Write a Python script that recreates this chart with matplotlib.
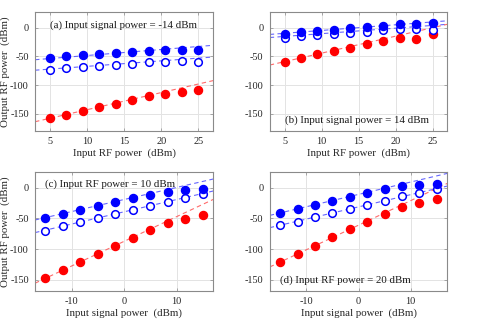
import numpy as np
import matplotlib
matplotlib.use("Agg")
import matplotlib.pyplot as plt

plt.rcParams['font.family'] = ['Liberation Serif', 'DejaVu Serif']
plt.rcParams['axes.unicode_minus'] = False

# ---------------- data ----------------
x_rf = np.linspace(5, 25, 10)          # Input RF power (dBm), panels a,b
x_sig = np.linspace(-15, 15, 10)       # Input signal power (dBm), panels c,d

a_fill = [-52.9, -50.0, -47.7, -45.4, -43.7, -42.5, -40.2, -39.0, -38.5, -38.5]
a_open = [-73.6, -70.7, -68.4, -66.0, -64.4, -62.6, -60.3, -59.2, -58.6, -59.2]
a_red = [-157.5, -151.7, -144.8, -137.9, -132.2, -125.3, -119.5, -115.5, -111.5, -109.2]

b_fill = [-10.9, -8.0, -5.7, -3.4, -1.1, 1.1, 3.4, 5.7, 6.9, 7.5]
b_open = [-17.2, -15.0, -13.2, -10.9, -9.2, -6.9, -4.6, -2.9, -2.9, -3.4]
b_red = [-59.2, -52.9, -46.0, -39.7, -34.5, -28.2, -23.0, -18.4, -19.0, -10.3]

c_fill = [-49.8, -42.8, -36.8, -29.8, -23.3, -16.8, -11.4, -7.0, -4.3, -2.7]
c_open = [-69.8, -62.8, -56.3, -49.3, -42.8, -36.3, -29.8, -23.3, -16.8, -10.3]
c_red = [-147.3, -133.7, -120.7, -108.3, -94.2, -81.2, -68.8, -57.9, -50.4, -43.9]

d_fill = [-41.7, -34.7, -27.6, -21.7, -14.6, -8.7, -2.7, 2.7, 4.9, 6.5]
d_open = [-61.2, -55.2, -48.2, -41.1, -34.7, -27.6, -21.1, -14.1, -8.1, -2.2]
d_red = [-120.2, -107.7, -94.2, -80.7, -67.1, -55.2, -42.2, -31.4, -24.4, -18.4]

# fitted trend lines: (slope, intercept) for fill, open, red
a_fit = [(1.05, -58.9), (0.96, -76.9), (2.99, -172.8)]
b_fit = [(0.99, -14.6), (0.96, -19.9), (2.96, -73.9)]
c_fit = [(1.96, -19.2), (1.99, -39.2), (4.01, -87.2)]
d_fit = [(2.01, -10.9), (1.99, -31.2), (4.00, -61.0)]

titles = ["(a) Input signal power = -14 dBm",
          "(b) Input signal power = 14 dBm",
          "(c) Input RF power = 10 dBm",
          "(d) Input RF power = 20 dBm"]
xlabels = ["Input RF power  (dBm)", "Input RF power  (dBm)",
           "Input signal power  (dBm)", "Input signal power  (dBm)"]
ylabel = "Output RF power  (dBm)"

# ---------------- figure ----------------
fig = plt.figure(figsize=(4.98, 3.20), dpi=100)
W, H = 498, 320
rects = [(35, 11.7, 213.3, 131), (269.7, 11.7, 447.3, 131),
         (35, 171.7, 213.3, 291), (269.7, 171.7, 447.3, 291)]

panels = [
    (x_rf, a_fill, a_open, a_red, a_fit, (3, 27), (-180, 28), [5, 10, 15, 20, 25], (5, 5), True),
    (x_rf, b_fill, b_open, b_red, b_fit, (3, 27), (-180, 28), [5, 10, 15, 20, 25], (5, -161), False),
    (x_sig, c_fill, c_open, c_red, c_fit, (-17, 17), (-168, 26), [-10, 0, 10], (-15, 5), True),
    (x_sig, d_fill, d_open, d_red, d_fit, (-17, 17), (-168, 26), [-10, 0, 10], (-15, -150), False),
]

fs = 7.8
tfs = 7.4
blue = '#0000ff'
red = '#ff0000'
for i, (rect, p) in enumerate(zip(rects, panels)):
    l, t, r, b = rect
    ax = fig.add_axes([l / W, 1 - b / H, (r - l) / W, (b - t) / H])
    x, yf, yo, yr, fits, xl, yl, xt, tpos, showy = p
    xx = np.array(xl, dtype=float)
    cols = ['#5555ff', '#5555ff', '#ff5a5a']
    for (s, c0), col in zip(fits, cols):
        ax.plot(xx, s * xx + c0, ls=(0, (4, 3)), lw=0.8, color=col, alpha=0.9, zorder=2)
    ax.plot(x, yr, 'o', color=red, ms=5.8, mec=red, zorder=3)
    ax.plot(x, yo, 'o', mfc='white', mec=blue, mew=1.1, ms=5.5, zorder=3)
    ax.plot(x, yf, 'o', color=blue, ms=5.8, mec=blue, zorder=4)
    ax.set_xlim(*xl)
    ax.set_ylim(*yl)
    ax.set_xticks(xt)
    ax.set_yticks([-150, -100, -50, 0])
    ax.grid(True, color='#e3e3e3', lw=0.7)
    ax.set_axisbelow(True)
    for sp in ax.spines.values():
        sp.set_color('#8a8a8a')
        sp.set_linewidth(0.8)
    ax.tick_params(direction='in', length=2, width=0.5, colors='#8a8a8a',
                   labelcolor='#262626', labelsize=tfs, top=True, right=True)
    ax.tick_params(axis='x', pad=4.5)
    ax.tick_params(axis='y', pad=4.5)
    ax.set_xlabel(xlabels[i], fontsize=fs, color='#262626', labelpad=1.8)
    if showy:
        ax.set_ylabel(ylabel, fontsize=fs, color='#262626')
        ax.yaxis.set_label_coords(-0.142, 0.5)
    ax.text(tpos[0], tpos[1], titles[i], fontsize=fs, color='#1a1a1a',
            ha='left', va='center', zorder=5)

fig.savefig("out.png", dpi=100)
